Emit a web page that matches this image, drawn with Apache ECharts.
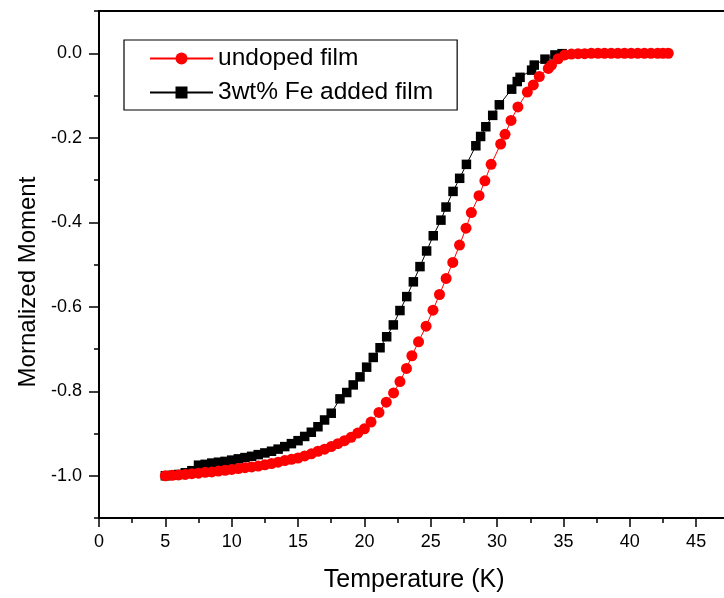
<!DOCTYPE html>
<html>
<head>
<meta charset="utf-8">
<script src="https://cdn.jsdelivr.net/npm/echarts@6/dist/echarts.min.js"></script>
<style>
html,body{margin:0;padding:0;background:#fff;}
#chart{width:724px;height:598px;}
</style>
</head>
<body>
<div id="chart"></div>
<script>
// ---- data ----
var seriesNames = ['undoped film', '3wt% Fe added film'];
var redT = [5.0,5.5,6.0,6.5,7.0,7.5,8.0,8.5,9.0,9.5,10.0,10.5,11.0,11.5,12.0,12.5,13.0,13.5,14.0,14.5,15.0,15.5,16.0,16.5,17.0,17.5,18.0,18.5,19.0,19.5,20.0,20.5,21.1,21.65,22.2,22.68,23.17,23.58,24.08,24.65,25.17,25.66,26.16,26.66,27.17,27.66,28.06,28.64,29.08,29.55,30.27,30.6,31.05,31.57,32.28,32.73,33.18,33.86,34.1,34.6,35.1,35.6,36.1,36.6,37.1,37.6,38.1,38.6,39.1,39.6,40.1,40.6,41.1,41.6,42.1,42.5,42.9];
var redM = [-1.000,-0.999,-0.998,-0.997,-0.995,-0.994,-0.992,-0.991,-0.989,-0.987,-0.985,-0.983,-0.981,-0.979,-0.977,-0.974,-0.971,-0.968,-0.964,-0.961,-0.958,-0.953,-0.948,-0.942,-0.937,-0.931,-0.924,-0.917,-0.909,-0.899,-0.889,-0.873,-0.850,-0.826,-0.804,-0.777,-0.746,-0.716,-0.683,-0.646,-0.608,-0.571,-0.533,-0.495,-0.454,-0.414,-0.377,-0.337,-0.302,-0.263,-0.215,-0.192,-0.159,-0.127,-0.092,-0.075,-0.055,-0.036,-0.028,-0.013,-0.004,-0.002,-0.001,-0.001,0,0,0,0,0,0,0,0,0,0,0,0,0];
var blackT = [5.0,5.5,6.0,6.5,7.0,7.5,8.0,8.5,9.0,9.5,10.0,10.5,11.0,11.5,12.0,12.5,13.0,13.5,14.0,14.5,15.0,15.5,16.0,16.5,17.0,17.5,18.16,18.67,19.16,19.67,20.17,20.67,21.18,21.68,22.18,22.68,23.19,23.69,24.19,24.69,25.19,25.77,26.15,26.68,27.18,27.69,28.4,28.76,29.15,29.67,30.17,31.1,31.52,31.73,32.6,32.8,33.61,34.36,34.9];
var blackM = [-1.000,-0.999,-0.997,-0.993,-0.988,-0.975,-0.973,-0.970,-0.968,-0.966,-0.963,-0.960,-0.957,-0.954,-0.950,-0.946,-0.942,-0.937,-0.931,-0.924,-0.917,-0.907,-0.897,-0.884,-0.868,-0.852,-0.818,-0.803,-0.785,-0.766,-0.743,-0.720,-0.697,-0.671,-0.643,-0.609,-0.576,-0.541,-0.505,-0.468,-0.432,-0.395,-0.364,-0.327,-0.296,-0.263,-0.219,-0.197,-0.174,-0.147,-0.122,-0.085,-0.067,-0.057,-0.040,-0.028,-0.014,-0.004,-0.001];
var yMajorTicks = [-1.0,-0.8,-0.6,-0.4,-0.2,0.0];
var yMinorTicks = [-1.1,-0.9,-0.7,-0.5,-0.3,-0.1,0.1];
var xTitle = 'Temperature (K)';
var yTitle = 'Mornalized Moment';

function zip(a, b) { var r = []; for (var i = 0; i < a.length; i++) r.push([a[i], b[i]]); return r; }

var FONT = 'Liberation Sans, Arial, Helvetica, sans-serif';
var chart = echarts.init(document.getElementById('chart'), null, {renderer: 'canvas'});
chart.setOption({
  animation: false,
  backgroundColor: '#ffffff',
  grid: {left: 99, top: 11, width: 630.3, height: 507,
         outerBoundsMode: 'none', containLabel: false,
         show: true, borderColor: '#000', borderWidth: 2, backgroundColor: 'transparent'},
  legend: {
    left: 124, top: 40, orient: 'vertical',
    data: seriesNames,
    itemWidth: 63, itemHeight: 15, itemGap: 9,
    padding: [6, 24, 5, 25],
    borderColor: '#000', borderWidth: 1.2, borderRadius: 0,
    textStyle: {fontFamily: FONT, fontSize: 24.5, color: '#000', lineHeight: 24}
  },
  xAxis: [{
    type: 'value', min: 0, max: 47.5, interval: 5,
    position: 'bottom',
    name: xTitle, nameLocation: 'middle', nameGap: 50,
    nameTextStyle: {fontFamily: FONT, fontSize: 25, color: '#000'},
    axisLine: {show: true, onZero: false, lineStyle: {color: '#000', width: 2}},
    axisTick: {show: true, inside: false, length: 9, lineStyle: {color: '#000', width: 1.5}},
    minorTick: {show: true, splitNumber: 2, length: 5, lineStyle: {color: '#000', width: 1.5}},
    axisLabel: {fontFamily: FONT, fontSize: 18, color: '#000', margin: 15, showMaxLabel: false},
    splitLine: {show: false}
  }],
  yAxis: [{
    type: 'value', min: -1.1, max: 0.1,
    position: 'left',
    name: yTitle, nameLocation: 'middle', nameGap: 58,
    nameTextStyle: {fontFamily: FONT, fontSize: 24, color: '#000', padding: [0, 35, 0, 0]},
    axisLine: {show: true, onZero: false, lineStyle: {color: '#000', width: 2}},
    axisTick: {show: true, inside: false, length: 10, customValues: yMajorTicks, lineStyle: {color: '#000', width: 1.5}},
    axisLabel: {fontFamily: FONT, fontSize: 18, color: '#000', margin: 17, customValues: yMajorTicks,
      formatter: function (v) { return (Math.abs(v) < 1e-9 ? 0 : v).toFixed(1); }},
    splitLine: {show: false}
  }, {
    type: 'value', min: -1.1, max: 0.1,
    position: 'left',
    axisLine: {show: false, onZero: false},
    axisTick: {show: true, inside: false, length: 5, customValues: yMinorTicks, lineStyle: {color: '#000', width: 1.5}},
    axisLabel: {show: false},
    splitLine: {show: false}
  }],
  series: [{
    name: seriesNames[0], type: 'line', xAxisIndex: 0, yAxisIndex: 0, z: 4,
    data: zip(redT, redM),
    symbol: 'circle', symbolSize: 11, showSymbol: true,
    itemStyle: {color: '#ff0000'},
    lineStyle: {color: '#ff0000', width: 1},
    emphasis: {disabled: true}
  }, {
    name: seriesNames[1], type: 'line', xAxisIndex: 0, yAxisIndex: 0, z: 3,
    data: zip(blackT, blackM),
    symbol: 'rect', symbolSize: 9.5, showSymbol: true,
    itemStyle: {color: '#000000'},
    lineStyle: {color: '#000000', width: 1},
    emphasis: {disabled: true}
  }]
});
</script>
</body>
</html>
